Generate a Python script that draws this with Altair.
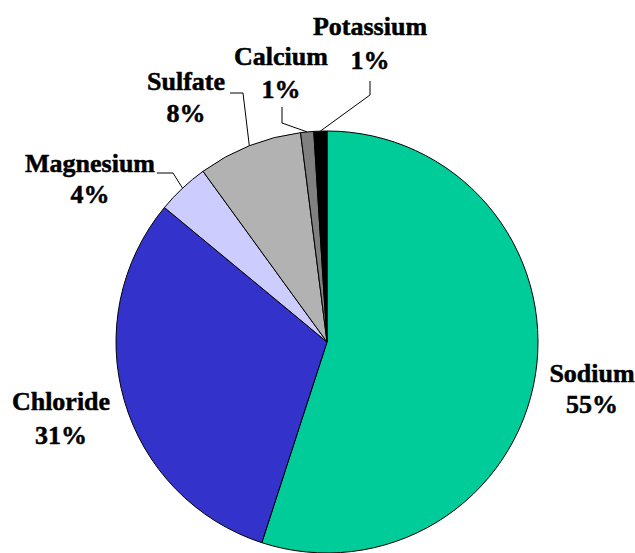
import math

import altair as alt
import pandas as pd

# Major ions dissolved in seawater, share of total mass (%)
ions = ["Sodium", "Chloride", "Magnesium", "Sulfate", "Calcium", "Potassium"]
shares = [55, 31, 4, 8, 1, 1]
colors = ["#00cc99", "#3333cc", "#ccccff", "#b2b2b2", "#808080", "#000000"]

# ---- layout -------------------------------------------------------------
W, H = 635, 553
CX, CY, R = 327, 342, 211
FONT = "'Liberation Serif', 'Times New Roman', Times, serif"
FSIZE = 26

# label anchor: (center x, baseline of name, baseline of percent)
label_pos = {
    "Sodium": (592, 382, 413),
    "Chloride": (61, 410, 444),
    "Magnesium": (90, 172, 203),
    "Sulfate": (186, 90, 122),
    "Calcium": (281, 65, 98),
    "Potassium": (370, 35, 69),
}
# leader lines: start near the label and elbow; the last point is on the rim
leader_pts = {
    "Magnesium": [(157, 173), (173, 173)],
    "Sulfate": [(230, 93), (243, 93)],
    "Calcium": [(282, 107), (282, 123)],
    "Potassium": [(370, 81), (370, 95)],
}

# ---- data tables --------------------------------------------------------
pie = pd.DataFrame({"ion": ions, "share": shares, "order": range(len(ions))})

total = sum(shares)
cum = 0.0
rim = {}
for ion, s in zip(ions, shares):
    mid = (cum + s / 2) / total * 2 * math.pi
    rim[ion] = (CX + R * math.sin(mid), CY - R * math.cos(mid))
    cum += s

labels = []
for ion, s in zip(ions, shares):
    x, y1, y2 = label_pos[ion]
    labels.append({"x": x, "y": y1, "text": ion})
    labels.append({"x": x, "y": y2, "text": f"{s}%"})
labels = pd.DataFrame(labels)

lines = []
for ion, pts in leader_pts.items():
    for i, (x, y) in enumerate(pts + [rim[ion]]):
        lines.append({"ion": ion, "i": i, "x": x, "y": y})
lines = pd.DataFrame(lines)

# ---- marks --------------------------------------------------------------
slices = (
    alt.Chart(pie)
    .mark_arc(radius=R, stroke="#000000", strokeWidth=1)
    .encode(
        theta=alt.Theta("share:Q", stack=True),
        order=alt.Order("order:Q"),
        color=alt.Color(
            "ion:N",
            scale=alt.Scale(domain=ions, range=colors),
            legend=None,
        ),
        x=alt.value(CX),
        y=alt.value(CY),
    )
)

leaders = (
    alt.Chart(lines)
    .mark_line(color="#000000", strokeWidth=1)
    .encode(
        x=alt.X("x:Q", scale=None),
        y=alt.Y("y:Q", scale=None),
        detail="ion:N",
        order="i:Q",
    )
)

texts = (
    alt.Chart(labels)
    .mark_text(
        font=FONT,
        fontSize=FSIZE,
        fontWeight="bold",
        align="center",
        baseline="alphabetic",
        color="#000000",
        stroke="#000000",
        strokeWidth=0.5,
    )
    .encode(
        x=alt.X("x:Q", scale=None),
        y=alt.Y("y:Q", scale=None),
        text="text:N",
    )
)

chart = (
    alt.layer(slices, leaders, texts)
    .properties(width=W, height=H, padding=0, autosize="none", background="#ffffff")
    .configure_view(stroke=None)
)

chart.save("out.html", embed_options={"renderer": "svg", "actions": False})
